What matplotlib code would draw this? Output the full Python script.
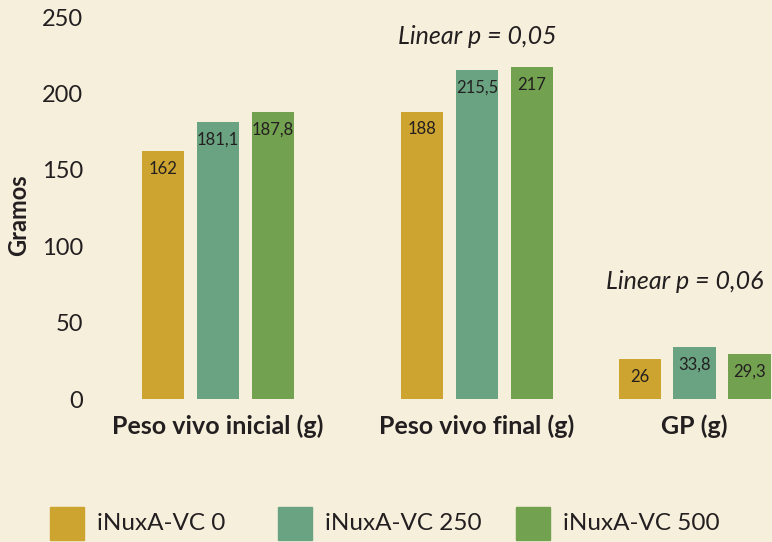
import matplotlib.pyplot as plt
from matplotlib.patches import Rectangle

# data
groups = ["Peso vivo inicial (g)", "Peso vivo final (g)", "GP (g)"]
series = ["iNuxA-VC 0", "iNuxA-VC 250", "iNuxA-VC 500"]
vc0 = [162, 188, 26]
vc250 = [181.1, 215.5, 33.8]
vc500 = [187.8, 217, 29.3]
yticks = [0, 50, 100, 150, 200, 250]
notes = ["", "Linear p = 0,05", "Linear p = 0,06"]

# style
BG = "#f6efdb"
COLORS = ["#cca42f", "#6aa381", "#72a14f"]
TXT = "#231f20"
FONT = ["Lato", "DejaVu Sans"]
group_pos = [0, 1, 1.84]
step = 0.212
width = 0.163
note_offsets = [(0, 0), (0, 14), (-7, 39)]  # points, from top of tallest bar

plt.rcParams["font.family"] = FONT

fig = plt.figure(figsize=(7.72, 5.42), dpi=100, facecolor=BG)
ax = fig.add_axes([100 / 772, 143 / 542, 672 / 772, 382 / 542])
ax.set_facecolor(BG)

for i, vals in enumerate([vc0, vc250, vc500]):
    xs = [g + (i - 1) * step for g in group_pos]
    bars = ax.bar(xs, vals, width=width, color=COLORS[i], clip_on=False)
    for b, v in zip(bars, vals):
        lab = ("%g" % v).replace(".", ",")
        ax.annotate(lab, (b.get_x() + b.get_width() / 2, v), xytext=(0, -7),
                    textcoords="offset points", ha="center", va="top",
                    fontsize=12, color=TXT)

# significance notes above groups
for g, vals, note, off in zip(group_pos, zip(vc0, vc250, vc500), notes, note_offsets):
    if note:
        ax.annotate(note, (g, max(vals)), xytext=off, textcoords="offset points",
                    ha="center", va="bottom", fontsize=18, style="italic",
                    color=TXT)

ax.set_xlim((100 - 218) / 259, (772 - 218) / 259)
ax.set_ylim(0, 250)
ax.set_yticks(yticks)
ax.set_yticklabels([str(t) for t in yticks], fontsize=17, color=TXT)
ax.tick_params(axis="y", length=0, pad=12)
ax.set_xticks(group_pos)
ax.set_xticklabels(groups, fontsize=18, fontweight="bold", color=TXT)
ax.tick_params(axis="x", length=0, pad=11)
for s in ax.spines.values():
    s.set_visible(False)
ax.set_ylabel("Gramos", fontsize=17, fontweight="bold", color=TXT)
ax.yaxis.set_label_coords(-0.104, 0.48)

# legend drawn by hand along the bottom
leg_x = [50, 278, 516]
for x, c, name in zip(leg_x, COLORS, series):
    fig.add_artist(Rectangle((x / 772, 2 / 542), 34 / 772, 33 / 542,
                             transform=fig.transFigure, color=c))
    fig.text((x + 47) / 772, 18 / 542, name, fontsize=17.5, color=TXT,
             va="center", ha="left")

fig.savefig("out.png", dpi=100, facecolor=BG)
